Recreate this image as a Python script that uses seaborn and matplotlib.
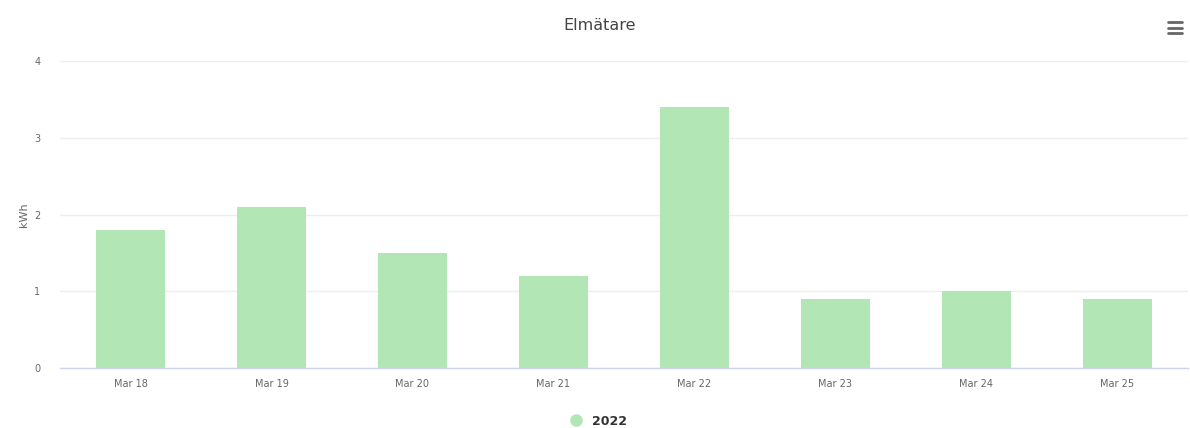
import matplotlib
matplotlib.use("Agg")
import matplotlib.pyplot as plt
from matplotlib.lines import Line2D
import seaborn as sns
import pandas as pd

dates = ["Mar 18", "Mar 19", "Mar 20", "Mar 21", "Mar 22", "Mar 23", "Mar 24", "Mar 25"]
kwh = [1.8, 2.1, 1.5, 1.2, 3.4, 0.9, 1.0, 0.9]
series_name = "2022"
title = "Elmätare"

df = pd.DataFrame({"date": dates, "kWh": kwh})

sns.set_theme(style="white")
plt.rcParams["font.family"] = ["DejaVu Sans"]

bar_color = "#b3e6b5"

fig = plt.figure(figsize=(11.9, 4.28), dpi=100)
ax = fig.add_axes([0.0504, 0.140, 0.9479, 0.7173])

sns.barplot(data=df, x="date", y="kWh", color=bar_color, width=0.49,
            saturation=1, ax=ax, zorder=3, edgecolor="none")

ax.set_ylim(0, 4)
ax.set_yticks([0, 1, 2, 3, 4])
ax.set_xlim(-0.5, len(dates) - 0.5)
ax.yaxis.grid(True, color="#eeeeee", linewidth=1, zorder=0)
ax.xaxis.grid(False)
for side in ["top", "right", "left"]:
    ax.spines[side].set_visible(False)
ax.spines["bottom"].set_color("#ccd6eb")
ax.spines["bottom"].set_linewidth(1)

ax.tick_params(axis="both", length=0, labelsize=7, colors="#666666")
ax.tick_params(axis="x", pad=8)
ax.tick_params(axis="y", pad=14)
ax.set_xlabel("")
ax.set_ylabel("kWh", fontsize=8, color="#666666", labelpad=4)

fig.text(0.5043, 0.94, title, ha="center", va="center", fontsize=11.5, color="#444444")

handle = Line2D([], [], marker="o", linestyle="", markersize=8,
                markerfacecolor=bar_color, markeredgecolor=bar_color)
leg = fig.legend([handle], [series_name], loc="center", bbox_to_anchor=(0.5, 0.016),
                 frameon=False, handletextpad=0.3, prop={"size": 9, "weight": "bold"})
for t in leg.get_texts():
    t.set_color("#333333")

# menu icon
for yy in [0.922, 0.935, 0.948]:
    fig.add_artist(Line2D([0.9815, 0.9935], [yy, yy], color="#666666", linewidth=2,
                          transform=fig.transFigure))

fig.savefig("out.png", dpi=100)
